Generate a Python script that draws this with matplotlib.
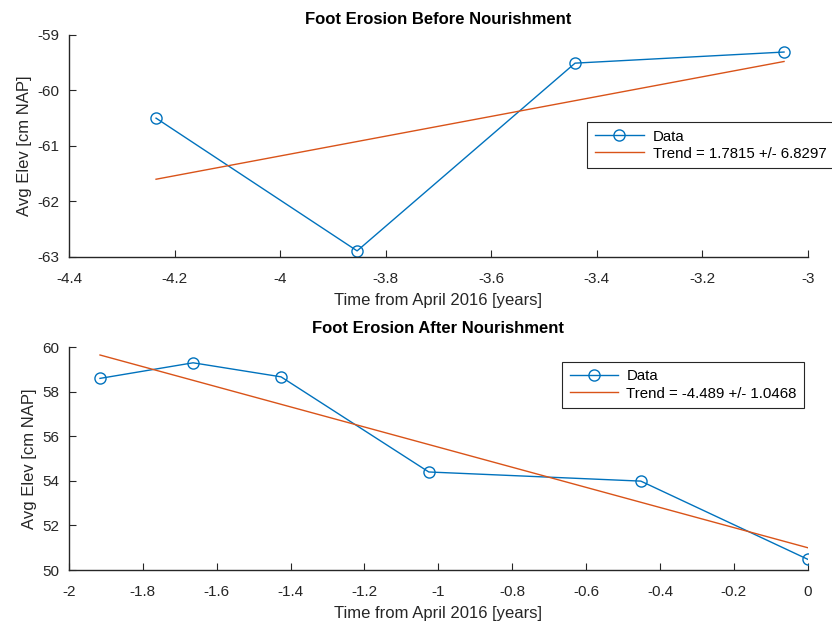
import matplotlib.pyplot as plt

plt.rcParams['font.family'] = ['Liberation Sans', 'DejaVu Sans']
plt.rcParams['axes.unicode_minus'] = False

# Before nourishment
before_t = [-4.235, -3.854, -3.441, -3.045]
before_elev = [-60.5, -62.89, -59.51, -59.31]
before_trend_t = [-4.235, -3.045]
before_trend = [-61.6, -59.48]
before_label = 'Trend = 1.7815 +/- 6.8297'

# After nourishment
after_t = [-1.916, -1.664, -1.426, -1.026, -0.452, 0.0]
after_elev = [58.6, 59.3, 58.67, 54.4, 53.99, 50.48]
after_trend_t = [-1.916, 0.0]
after_trend = [59.65, 51.0]
after_label = 'Trend = -4.489 +/- 1.0468'

blue = '#0072BD'
orange = '#D95319'
grey = '#262626'

fig = plt.figure(figsize=(8.32, 6.33), dpi=100)
ax1 = fig.add_axes([0.0829, 0.594, 0.888, 0.351])
ax2 = fig.add_axes([0.0829, 0.0995, 0.888, 0.352])


def style(ax):
    for s in ['top', 'right']:
        ax.spines[s].set_visible(False)
    for s in ['left', 'bottom']:
        ax.spines[s].set_color(grey)
        ax.spines[s].set_linewidth(1.0)
    ax.tick_params(direction='in', length=5, width=0.8, colors=grey,
                   labelsize=11, labelcolor=grey)
    ax.tick_params(axis='x', pad=11)
    ax.tick_params(axis='y', pad=7)
    ax.set_xlabel('Time from April 2016 [years]', fontsize=12, color=grey,
                  labelpad=5)
    ax.set_ylabel('Avg Elev [cm NAP]', fontsize=12, color=grey)


#%% top panel
ax1.plot(before_t, before_elev, '-o', color=blue, lw=1.0, ms=8,
         mfc='none', mew=1.0, label='Data')
ax1.plot(before_trend_t, before_trend, '-', color=orange, lw=1.0,
         label=before_label)
ax1.set_xlim(-4.4, -3)
ax1.set_ylim(-63, -59)
ax1.set_xticks([-4.4, -4.2, -4, -3.8, -3.6, -3.4, -3.2, -3])
ax1.set_xticklabels(['-4.4', '-4.2', '-4', '-3.8', '-3.6', '-3.4', '-3.2', '-3'])
ax1.set_yticks([-63, -62, -61, -60, -59])
style(ax1)
ax1.set_title('Foot Erosion Before Nourishment', fontsize=12, fontweight='bold',
              pad=8)
leg1 = ax1.legend(loc='upper left', bbox_to_anchor=(587 / 832, 1 - 122 / 633),
                  bbox_transform=fig.transFigure, fancybox=False,
                  edgecolor=grey, fontsize=10.8, borderaxespad=0,
                  handlelength=3.3, framealpha=1, borderpad=0.5,
                  labelspacing=0.2, handletextpad=0.6)
leg1.get_frame().set_linewidth(0.8)

#%% bottom panel
ax2.plot(after_t, after_elev, '-o', color=blue, lw=1.0, ms=8,
         mfc='none', mew=1.0, label='Data')
ax2.plot(after_trend_t, after_trend, '-', color=orange, lw=1.0,
         label=after_label)
ax2.set_xlim(-2, 0)
ax2.set_ylim(50, 60)
ax2.set_xticks([-2, -1.8, -1.6, -1.4, -1.2, -1, -0.8, -0.6, -0.4, -0.2, 0])
ax2.set_xticklabels(['-2', '-1.8', '-1.6', '-1.4', '-1.2', '-1', '-0.8',
                     '-0.6', '-0.4', '-0.2', '0'])
ax2.set_yticks([50, 52, 54, 56, 58, 60])
style(ax2)
ax2.set_title('Foot Erosion After Nourishment', fontsize=12, fontweight='bold',
              pad=10)
leg2 = ax2.legend(loc='upper left', bbox_to_anchor=(562 / 832, 1 - 362 / 633),
                  bbox_transform=fig.transFigure, fancybox=False,
                  edgecolor=grey, fontsize=10.8, borderaxespad=0,
                  handlelength=3.2, framealpha=1, borderpad=0.5,
                  labelspacing=0.2, handletextpad=0.6)
leg2.get_frame().set_linewidth(0.8)

plt.savefig('out.png', dpi=100)
